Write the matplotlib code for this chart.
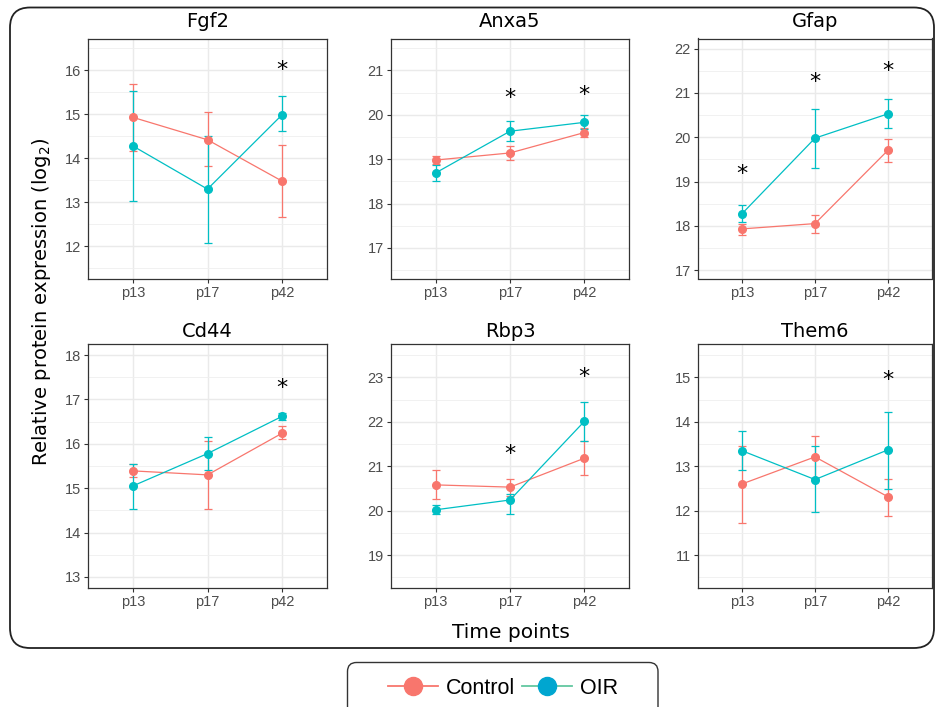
import matplotlib
matplotlib.use("Agg")
import matplotlib.pyplot as plt
import matplotlib.transforms as mtransforms
from matplotlib.patches import FancyBboxPatch
from matplotlib.lines import Line2D
from matplotlib.ticker import MultipleLocator, FormatStrFormatter

# ---------------- data ----------------
genes = ["Fgf2", "Anxa5", "Gfap", "Cd44", "Rbp3", "Them6"]
time_points = ["p13", "p17", "p42"]
groups = ["Control", "OIR"]

control_mean = [[14.93, 14.42, 13.48], [18.98, 19.14, 19.60], [17.93, 18.05, 19.71],
                [15.39, 15.30, 16.24], [20.58, 20.53, 21.18], [12.60, 13.21, 12.31]]
control_low = [[14.17, 13.83, 12.67], [18.90, 18.98, 19.49], [17.80, 17.84, 19.44],
               [15.25, 14.52, 16.11], [20.26, 20.34, 20.80], [11.73, 12.73, 11.89]]
control_high = [[15.69, 15.05, 14.31], [19.07, 19.30, 19.71], [18.05, 18.24, 19.96],
                [15.54, 16.06, 16.41], [20.91, 20.71, 21.57], [13.46, 13.68, 12.72]]

oir_mean = [[14.28, 13.30, 14.99], [18.69, 19.63, 19.83], [18.27, 19.98, 20.53],
            [15.05, 15.78, 16.62], [20.02, 20.24, 22.01], [13.35, 12.70, 13.37]]
oir_low = [[13.02, 12.07, 14.61], [18.50, 19.42, 19.69], [18.08, 19.30, 20.21],
           [14.53, 15.40, 16.54], [19.93, 19.93, 21.57], [12.91, 11.97, 12.49]]
oir_high = [[15.52, 14.50, 15.42], [18.87, 19.87, 19.99], [18.47, 20.64, 20.86],
            [15.54, 16.16, 16.70], [20.13, 20.38, 22.45], [13.80, 13.46, 14.23]]

# significance stars: (time point, y position) per gene
star_points = [[("p42", 16.10)],
               [("p17", 20.47), ("p42", 20.54)],
               [("p13", 19.27), ("p17", 21.34), ("p42", 21.59)],
               [("p42", 17.36)],
               [("p17", 21.38), ("p42", 23.11)],
               [("p42", 15.03)]]

y_limits = [(11.27, 16.72), (16.31, 21.72), (16.81, 22.23),
            (12.75, 18.25), (18.26, 23.75), (10.26, 15.75)]

# ---------------- style ----------------
W, H = 935, 707
C_CTRL = "#F8766D"
C_OIR = "#00BFC4"
TICK_FONT = "Liberation Sans"
MAIN_FONT = "DejaVu Sans"

fig = plt.figure(figsize=(W / 100, H / 100), dpi=100)
fig.patch.set_facecolor("white")

# background overlay in pixel coordinates for the rounded frames
bg = fig.add_axes([0, 0, 1, 1], zorder=0)
bg.set_xlim(0, W)
bg.set_ylim(H, 0)
bg.axis("off")
bg.add_patch(FancyBboxPatch((10, 7.5), 924, 640.5, boxstyle="round,pad=0,rounding_size=20",
                            facecolor="white", edgecolor="#222222", linewidth=1.3))
bg.add_patch(FancyBboxPatch((347.5, 662.5), 310.5, 60, boxstyle="round,pad=0,rounding_size=9",
                            facecolor="white", edgecolor="#333333", linewidth=1.0,
                            clip_on=False))

cols = [(88, 327), (391, 629), (698, 932)]
rows = [(38.5, 278.5), (344, 588)]
title_pads = [8, 5]

x_pos = list(range(1, len(time_points) + 1))

for i, gene in enumerate(genes):
    r, c = divmod(i, 3)
    x0, x1 = cols[c]
    y0, y1 = rows[r]
    ax = fig.add_axes([x0 / W, 1 - y1 / H, (x1 - x0) / W, (y1 - y0) / H], zorder=2)
    ax.set_facecolor("white")

    for mean, lo, hi, col in [(control_mean[i], control_low[i], control_high[i], C_CTRL),
                              (oir_mean[i], oir_low[i], oir_high[i], C_OIR)]:
        yerr = [[m - l for m, l in zip(mean, lo)], [h - m for m, h in zip(mean, hi)]]
        ax.errorbar(x_pos, mean, yerr=yerr, color=col, marker="o", markersize=5.5,
                    linewidth=0.9, elinewidth=0.9, capsize=2.6, capthick=0.9, zorder=3)

    star_tr = ax.transData + mtransforms.ScaledTranslation(0, -4.5 / 100, fig.dpi_scale_trans)
    for tp, ys in star_points[i]:
        ax.text(time_points.index(tp) + 1, ys, "*", ha="center", va="center",
                fontsize=16, family=MAIN_FONT, color="black", zorder=4, transform=star_tr)

    ax.set_xlim(0.4, 3.6)
    ax.set_ylim(*y_limits[i])
    ax.set_xticks(x_pos)
    ax.set_xticklabels(time_points)
    ax.yaxis.set_major_locator(MultipleLocator(1))
    ax.yaxis.set_minor_locator(MultipleLocator(0.5))
    ax.yaxis.set_major_formatter(FormatStrFormatter("%d"))
    ax.grid(True, which="major", color="#EAEAEA", linewidth=1.0, zorder=0)
    ax.grid(True, which="minor", axis="y", color="#EFEFEF", linewidth=0.6, zorder=0)
    ax.set_axisbelow(True)
    ax.tick_params(which="major", direction="out", length=2.8, width=0.8, color="#333333",
                   labelsize=10.5, labelcolor="#4D4D4D", pad=2.5)
    ax.tick_params(which="minor", length=0)
    for lab in ax.get_xticklabels() + ax.get_yticklabels():
        lab.set_family(TICK_FONT)
    for sp in ax.spines.values():
        sp.set_color("#333333")
        sp.set_linewidth(0.9)
    ax.set_title(gene, fontsize=14, family=MAIN_FONT, pad=title_pads[r])

fig.text(42 / W, 1 - 302 / H, "Relative protein expression (log$_2$)", rotation=90,
         ha="center", va="center", fontsize=14, family=MAIN_FONT)
fig.text(511 / W, 1 - 632 / H, "Time points", ha="center", va="center",
         fontsize=14.5, family=MAIN_FONT)

handles = [Line2D([], [], color=C_CTRL, linewidth=1.3, marker="o", markersize=13,
                  markerfacecolor=C_CTRL, markeredgecolor=C_CTRL),
           Line2D([], [], color="#62C7A0", linewidth=1.3, marker="o", markersize=13,
                  markerfacecolor="#00A6D0", markeredgecolor="#00A6D0")]
leg = fig.legend(handles, groups, loc="center", bbox_to_anchor=(503 / W, 1 - 688 / H),
                 ncol=2, frameon=False, borderaxespad=0, borderpad=0,
                 handlelength=2.3, handletextpad=0.36, columnspacing=0.36,
                 prop={"family": TICK_FONT, "size": 15.5})
leg.set_zorder(5)

fig.savefig("out.png", dpi=100)
